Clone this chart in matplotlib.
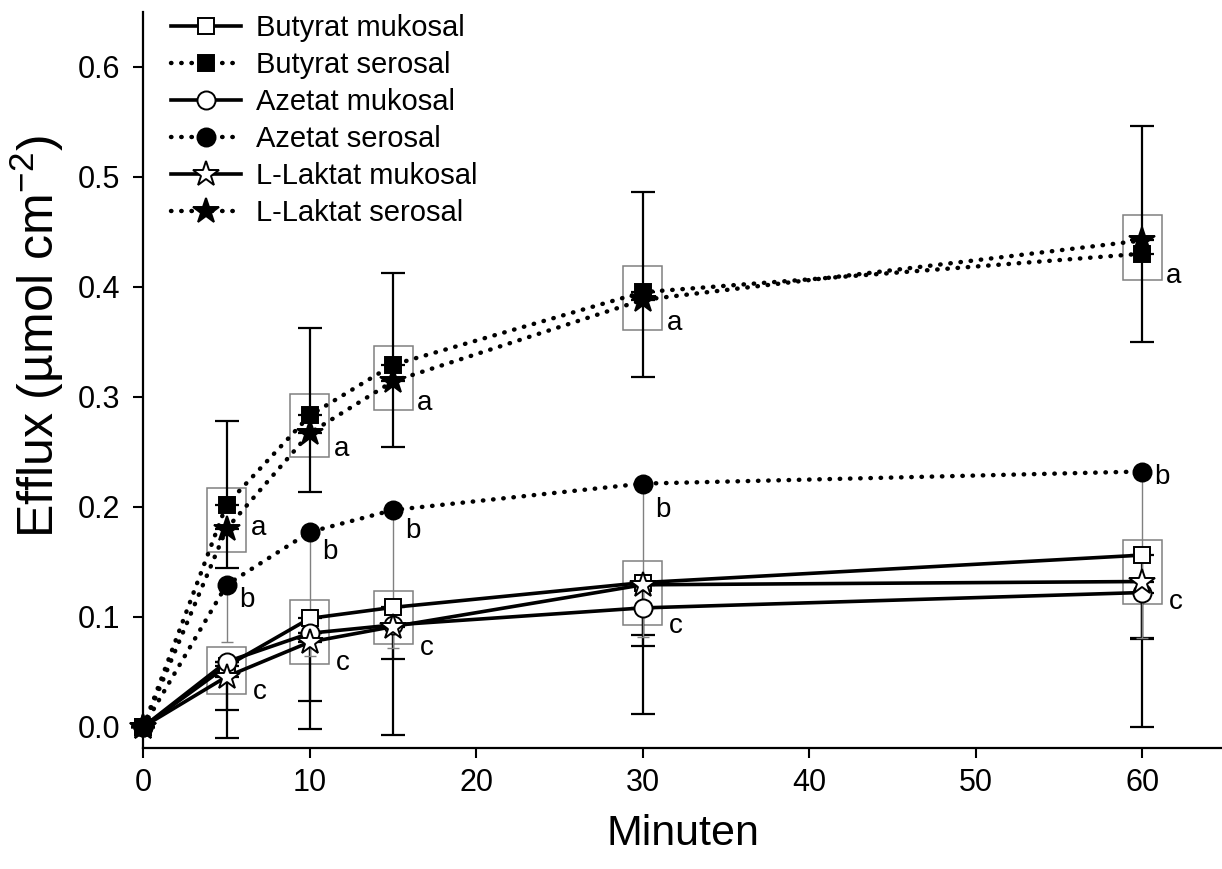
import numpy as np
import matplotlib
matplotlib.use("Agg")
import matplotlib.pyplot as plt
from matplotlib.patches import Rectangle

plt.rcParams['font.family'] = ['Liberation Sans', 'DejaVu Sans']
plt.rcParams['mathtext.fontset'] = 'custom'
plt.rcParams['mathtext.rm'] = 'Liberation Sans'

# time points (min)
minutes = [0, 5, 10, 15, 30, 60]

# efflux means (umol cm-2)
butyrat_muk = [0.0, 0.055, 0.0985, 0.1085, 0.131, 0.156]
butyrat_ser = [0.0, 0.202, 0.283, 0.329, 0.395, 0.430]
azetat_muk = [0.0, 0.059, 0.085, 0.0925, 0.108, 0.122]
azetat_ser = [0.0, 0.129, 0.177, 0.197, 0.221, 0.232]
laktat_muk = [0.0, 0.0455, 0.077, 0.091, 0.129, 0.132]
laktat_ser = [0.0, 0.180, 0.267, 0.314, 0.388, 0.442]

# one-sided SD bars
butyrat_ser_up = [0.0, 0.076, 0.079, 0.083, 0.091, 0.116]
laktat_ser_down = [0.0, 0.036, 0.054, 0.0595, 0.0705, 0.092]
azetat_ser_down = [0.0, 0.052, 0.1125, 0.125, 0.139, 0.151]
butyrat_muk_down = [0.0, 0.0656, 0.1005, 0.116, 0.119, 0.156]
laktat_muk_down = [0.0, 0.030, 0.0534, 0.029, 0.0554, 0.052]
azetat_muk_down = [0.0, 0.0, 0.0, 0.0, 0.025, 0.041]

# grouping boxes and significance letters at 5..60 min
box_minutes = [5, 10, 15, 30, 60]
ser_box_lo = [0.159, 0.245, 0.288, 0.361, 0.406]
ser_box_hi = [0.217, 0.302, 0.346, 0.419, 0.465]
muk_box_lo = [0.0295, 0.057, 0.075, 0.0925, 0.112]
muk_box_hi = [0.0727, 0.115, 0.123, 0.151, 0.170]
a_y = [0.181, 0.252, 0.294, 0.367, 0.410]
b_y = [0.115, 0.159, 0.178, 0.197, 0.227]
c_y = [0.032, 0.058, 0.072, 0.092, 0.113]

fig = plt.figure(figsize=(12.22, 8.69), dpi=100)
ax = fig.add_axes([0.1173, 0.1398, 0.8827, 0.8464])

t = np.array(minutes)
dotted = (0, (0.1, 2.2))

# error bars first so the markers sit on top
def err(y, lo, hi, color='black', lw=1.6, cap=8.3):
    ax.errorbar(t, y, yerr=[lo, hi], fmt='none', ecolor=color,
                elinewidth=lw, capsize=cap, capthick=lw, zorder=2, clip_on=False)

zeros = np.zeros(len(t))
err(butyrat_ser, zeros, butyrat_ser_up)
err(laktat_ser, laktat_ser_down, zeros)
err(butyrat_muk, butyrat_muk_down, zeros)
err(laktat_muk, laktat_muk_down, zeros)
err(azetat_muk, azetat_muk_down, zeros)
err(azetat_ser, azetat_ser_down, zeros, color='#808080', lw=1.0, cap=4.3)

for i, m in enumerate(box_minutes):
    for lo, hi in ((ser_box_lo[i], ser_box_hi[i]), (muk_box_lo[i], muk_box_hi[i])):
        ax.add_patch(Rectangle((m - 1.17, lo), 2.34, hi - lo, fill=False,
                               edgecolor='#808080', lw=1.1, zorder=1))
    ax.text(m + 1.9, a_y[i], 'a', fontsize=20, ha='center', va='center')
    ax.text(m + 1.2, b_y[i], 'b', fontsize=20, ha='center', va='center')
    ax.text(m + 2.0, c_y[i], 'c', fontsize=20, ha='center', va='center')

series = [
    ('Butyrat mukosal', butyrat_muk, '-', 's', 'white', 12, 2.6),
    ('Butyrat serosal', butyrat_ser, dotted, 's', 'black', 12, 3.2),
    ('Azetat mukosal', azetat_muk, '-', 'o', 'white', 13, 2.6),
    ('Azetat serosal', azetat_ser, dotted, 'o', 'black', 13, 3.2),
    ('L-Laktat mukosal', laktat_muk, '-', '*', 'white', 19, 2.6),
    ('L-Laktat serosal', laktat_ser, dotted, '*', 'black', 19, 3.2),
]
for label, y, ls, mk, fc, ms, lw in series:
    ax.plot(t, y, linestyle=ls, lw=lw, color='black', marker=mk,
            markersize=ms, markerfacecolor=fc, markeredgecolor='black',
            markeredgewidth=1.4, dash_capstyle='round', label=label,
            zorder=3, clip_on=False)

ax.set_xlim(0, 64.8)
ax.set_ylim(-0.0189, 0.6497)
ax.set_xticks([0, 10, 20, 30, 40, 50, 60])
ax.set_yticks([0.0, 0.1, 0.2, 0.3, 0.4, 0.5, 0.6])
ax.set_yticklabels(['0.0', '0.1', '0.2', '0.3', '0.4', '0.5', '0.6'])
ax.tick_params(axis='both', direction='out', length=7.5, width=1.5,
               labelsize=22)
ax.tick_params(axis='x', pad=7)
ax.tick_params(axis='y', pad=9)
for side in ('top', 'right'):
    ax.spines[side].set_visible(False)
for side in ('left', 'bottom'):
    ax.spines[side].set_linewidth(1.6)

ax.set_xlabel('Minuten', fontsize=31, labelpad=12)
ax.set_ylabel('Efflux (µmol cm$^{\\mathrm{-2}}$)', fontsize=36)
ax.yaxis.set_label_coords(-0.0715, 0.558)

ax.legend(loc='upper left', bbox_to_anchor=(0.015, 1.013), frameon=False,
          fontsize=21, handlelength=2.4, handletextpad=0.5,
          labelspacing=0.31, borderaxespad=0.0)

fig.savefig('out.png', dpi=100)
